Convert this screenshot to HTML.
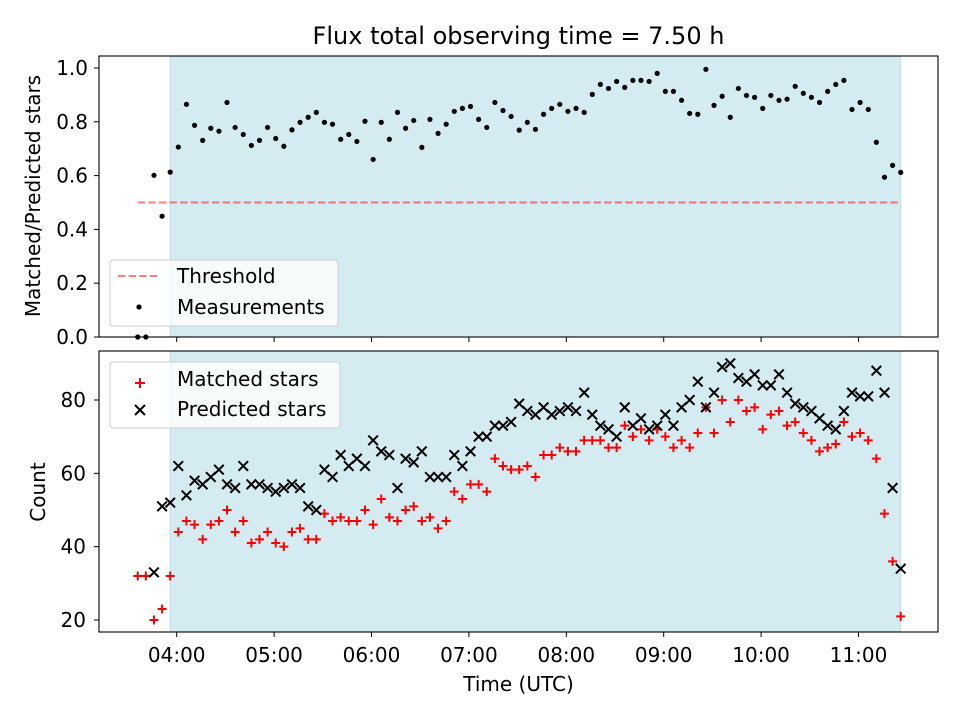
<!DOCTYPE html>
<html><head><meta charset="utf-8"><style>
html,body{margin:0;padding:0;background:#fff}
svg{display:block;font-family:"DejaVu Sans","Liberation Sans",sans-serif}
</style></head><body>
<svg id="chart" width="960" height="720" viewBox="0 0 960 720"></svg>
<script>
const times = ["03:36","03:41","03:46","03:51","03:56",
"04:01","04:06","04:11","04:16","04:21","04:26","04:31","04:36","04:41","04:46","04:51","04:56",
"05:01","05:06","05:11","05:16","05:21","05:26","05:31","05:36","05:41","05:46","05:51","05:56",
"06:01","06:06","06:11","06:16","06:21","06:26","06:31","06:36","06:41","06:46","06:51","06:56",
"07:01","07:06","07:11","07:16","07:21","07:26","07:31","07:36","07:41","07:46","07:51","07:56",
"08:01","08:06","08:11","08:16","08:21","08:26","08:31","08:36","08:41","08:46","08:51","08:56",
"09:01","09:06","09:11","09:16","09:21","09:26","09:31","09:36","09:41","09:46","09:51","09:56",
"10:01","10:06","10:11","10:16","10:21","10:26","10:31","10:36","10:41","10:46","10:51","10:56",
"11:01","11:06","11:11","11:16","11:21","11:26"];
const ratio = [0,0,0.601,0.449,0.613,0.706,0.865,0.787,0.731,0.776,0.765,0.872,0.779,0.753,0.712,0.731,0.779,0.738,0.709,0.770,
0.798,0.817,0.835,0.798,0.791,0.735,0.753,0.727,0.802,0.660,0.798,0.735,0.835,0.776,0.805,0.705,0.809,0.757,0.791,0.839,
0.850,0.857,0.809,0.779,0.872,0.842,0.820,0.769,0.798,0.772,0.828,0.850,0.865,0.839,0.850,0.835,0.902,0.939,0.924,0.950,
0.928,0.954,0.954,0.950,0.980,0.913,0.913,0.880,0.831,0.828,0.995,0.861,0.895,0.817,0.924,0.898,0.891,0.850,0.898,0.880,
0.884,0.932,0.906,0.891,0.872,0.913,0.939,0.954,0.846,0.872,0.846,0.724,0.594,0.638,0.612];
const matched = [32,32,20,23,32,44,47,46,42,46,47,50,44,47,41,42,44,41,40,44,45,42,42,49,47,48,47,47,50,46,
53,48,47,50,51,47,48,45,47,55,53,57,57,55,64,62,61,61,62,59,65,65,67,66,66,69,69,69,67,67,
73,70,72,69,72,70,67,69,67,71,78,71,80,74,80,77,78,72,76,77,73,74,71,69,66,67,68,74,70,71,
69,64,49,36,21];
const predicted = [null,null,33,51,52,62,54,58,57,59,61,57,56,62,57,57,56,55,56,57,56,51,50,61,59,65,62,64,62,69,
66,65,56,64,63,66,59,59,59,65,62,66,70,70,73,73,74,79,77,76,78,76,77,78,77,82,76,73,72,70,
78,73,75,72,73,76,73,78,80,85,78,82,89,90,86,85,87,84,84,87,82,79,78,77,75,73,72,77,82,81,
81,88,82,56,34];
const ratioTicks = [0,0.2,0.4,0.6,0.8,1.0];
const countTicks = [20,40,60,80];
const hourTicks = ["04:00","05:00","06:00","07:00","08:00","09:00","10:00","11:00"];
const threshold = 0.5;
const spanStart = "03:56", spanEnd = "11:26";

const NS="http://www.w3.org/2000/svg";
const svg=document.getElementById('chart');
const FS='20';
function mk(tag,attrs,parent){const e=document.createElementNS(NS,tag);for(const k in attrs)e.setAttribute(k,attrs[k]);(parent||svg).appendChild(e);return e;}
function mins(s){const p=s.split(':');return +p[0]*60+ +p[1];}
const L=99,R=938;
function X(s){return 176.7+(mins(s)-240)*97.4/60;}
const T1=56,B1=337,T2=351,B2=632;
function Y1(v){return 337-v*269;}
function Y2(v){return 620-(v-20)*220/60;}

let t=mk('text',{x:518.5,y:44,'text-anchor':'middle','font-size':'24'});t.textContent='Flux total observing time = 7.50 h';


function panel(top,bot,name){
  const g=mk('g',{});
  
  const sp=mk('rect',{x:X(spanStart),y:top,width:X(spanEnd)-X(spanStart),height:bot-top,fill:'#d4ebf1',stroke:'#b9dde8','stroke-width':1},g);
  
  return g;
}
function frame(top,bot,g,labels){
  mk('rect',{x:L,y:top,width:R-L,height:bot-top,fill:'none',stroke:'#000','stroke-width':1.1},g);
  hourTicks.forEach(h=>{
    const x=X(h);
    const tk=mk('line',{x1:x,x2:x,y1:bot,y2:bot+5,stroke:'#000','stroke-width':1},g);
    
    if(labels){const tx=mk('text',{x:x,y:bot+30,'text-anchor':'middle','font-size':FS},g);tx.textContent=h;
      }
  });
}
const g1=panel(T1,B1,'ratio-panel');
const th=mk('line',{x1:X("03:36"),x2:X("11:26"),y1:Y1(threshold),y2:Y1(threshold),stroke:'#ff0000','stroke-opacity':0.5,'stroke-width':2,'stroke-dasharray':'7.4,3.2'},g1);

ratio.forEach((v,i)=>{
  const c=mk('circle',{cx:X(times[i]),cy:Y1(v),r:2.6,fill:'#000'},g1);
  
});
frame(T1,B1,g1,false);
ratioTicks.forEach(v=>{
  const y=Y1(v);
  mk('line',{x1:L-5,x2:L,y1:y,y2:y,stroke:'#000'},g1);
  const tx=mk('text',{x:L-11,y:y+7,'text-anchor':'end','font-size':FS},g1);tx.textContent=v.toFixed(1);
  
});
let yl=mk('text',{x:40,y:196,'text-anchor':'middle','font-size':FS,transform:'rotate(-90 40 196)'});yl.textContent='Matched/Predicted stars';

const lg1=mk('g',{});
mk('rect',{x:110,y:260,width:228,height:66,rx:3,fill:'#fff','fill-opacity':0.8,stroke:'#ccc'},lg1);
mk('line',{x1:118,x2:160,y1:276,y2:276,stroke:'#ff0000','stroke-opacity':0.5,'stroke-width':2,'stroke-dasharray':'7.4,3.2'},lg1);
mk('circle',{cx:139,cy:307,r:2.6,fill:'#000'},lg1);
t=mk('text',{x:177,y:283,'font-size':FS},lg1);t.textContent='Threshold';
t=mk('text',{x:177,y:314,'font-size':FS},lg1);t.textContent='Measurements';

const g2=panel(T2,B2,'count-panel');
matched.forEach((v,i)=>{
  if(v==null)return;const x=X(times[i]),y=Y2(v);
  const p=mk('path',{d:`M${x-4.5} ${y}H${x+4.5}M${x} ${y-4.5}V${y+4.5}`,stroke:'#ff0000','stroke-width':2},g2);
  
});
predicted.forEach((v,i)=>{
  if(v==null)return;const x=X(times[i]),y=Y2(v);
  const p=mk('path',{d:`M${x-4.8} ${y-4.8}L${x+4.8} ${y+4.8}M${x-4.8} ${y+4.8}L${x+4.8} ${y-4.8}`,stroke:'#000','stroke-width':2},g2);
  
});
frame(T2,B2,g2,true);
countTicks.forEach(v=>{
  const y=Y2(v);
  mk('line',{x1:L-5,x2:L,y1:y,y2:y,stroke:'#000'},g2);
  const tx=mk('text',{x:L-13,y:y+7,'text-anchor':'end','font-size':FS},g2);tx.textContent=v;
  
});
yl=mk('text',{x:45,y:492,'text-anchor':'middle','font-size':FS,transform:'rotate(-90 45 492)'});yl.textContent='Count';

let xl=mk('text',{x:518.5,y:691,'text-anchor':'middle','font-size':FS});xl.textContent='Time (UTC)';

const lg2=mk('g',{});
mk('rect',{x:110,y:362,width:230,height:66,rx:3,fill:'#fff','fill-opacity':0.8,stroke:'#ccc'},lg2);
mk('path',{d:'M135 383H145M140 378V388',stroke:'#ff0000','stroke-width':2},lg2);
mk('path',{d:'M135 405L145 415M135 415L145 405',stroke:'#000','stroke-width':2},lg2);
t=mk('text',{x:177,y:386,'font-size':FS},lg2);t.textContent='Matched stars';
t=mk('text',{x:177,y:416,'font-size':FS},lg2);t.textContent='Predicted stars';
</script>
</body></html>
